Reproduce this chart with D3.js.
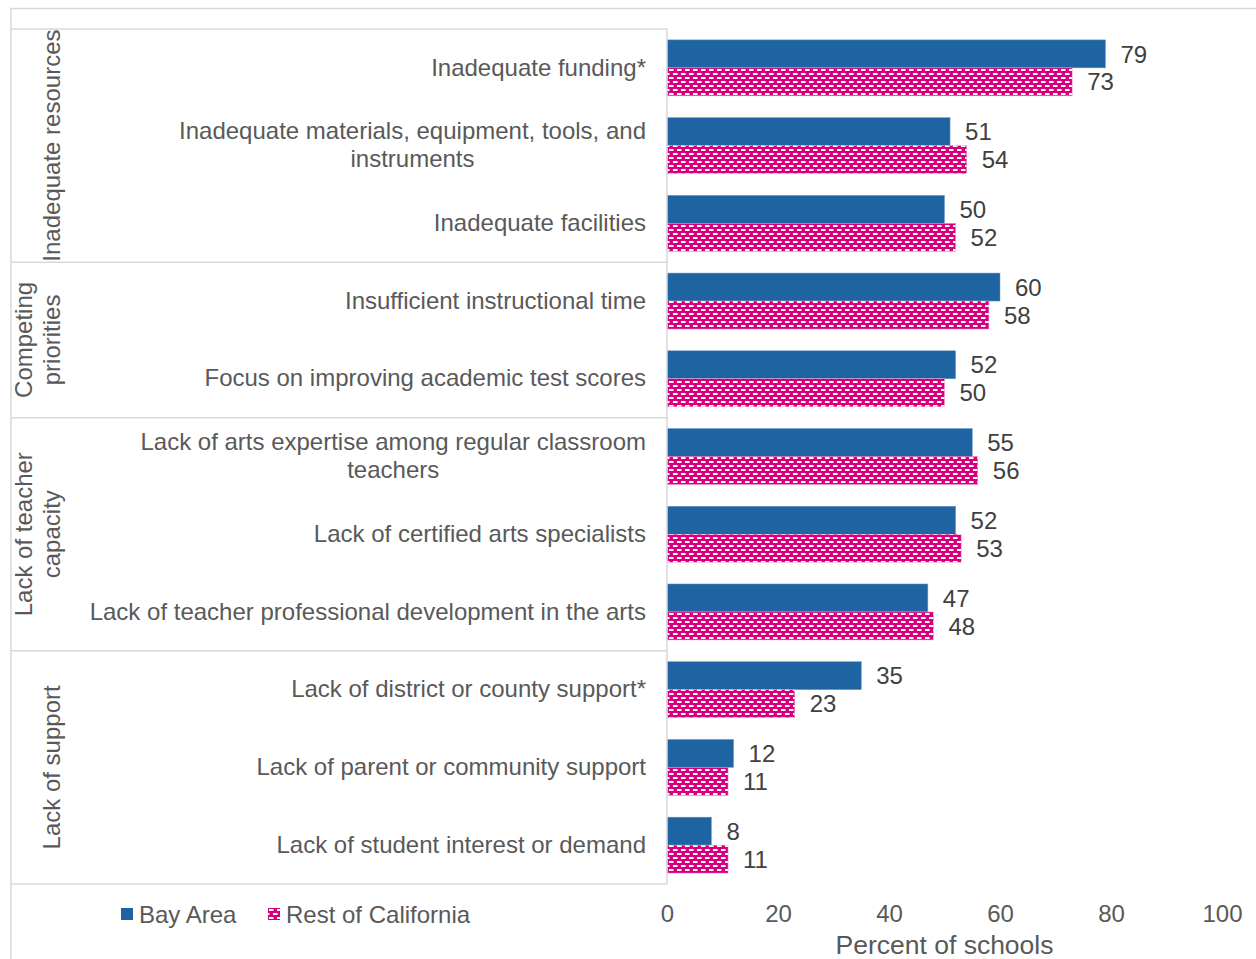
<!DOCTYPE html>
<html>
<head>
<meta charset="utf-8">
<script src="https://cdn.jsdelivr.net/npm/d3@7"></script>
<style>
  html, body { margin: 0; padding: 0; background: #fff; }
  svg { display: block; font-family: "Liberation Sans", Arial, sans-serif; }
</style>
</head>
<body>
<svg id="chart" width="1256" height="959"></svg>
<script>
// Barriers to arts education, percent of schools
const categories = [
  ["Inadequate funding*"],
  ["Inadequate materials, equipment, tools, and", "instruments"],
  ["Inadequate facilities"],
  ["Insufficient instructional time"],
  ["Focus on improving academic test scores"],
  ["Lack of arts expertise among regular classroom", "teachers"],
  ["Lack of certified arts specialists"],
  ["Lack of teacher professional development in the arts"],
  ["Lack of district or county support*"],
  ["Lack of parent or community support"],
  ["Lack of student interest or demand"]
];
const bayArea = [79, 51, 50, 60, 52, 55, 52, 47, 35, 12, 8];
const restOfCalifornia = [73, 54, 52, 58, 50, 56, 53, 48, 23, 11, 11];
const groups = [
  { lines: ["Inadequate resources"], from: 0, to: 2 },
  { lines: ["Competing", "priorities"], from: 3, to: 4 },
  { lines: ["Lack of teacher", "capacity"], from: 5, to: 7 },
  { lines: ["Lack of support"], from: 8, to: 10 }
];
const seriesNames = ["Bay Area", "Rest of California"];
const xTicks = [0, 20, 40, 60, 80, 100];

const blue = "#1f64a2";
const pink = "#d6007e";
const grid = "#d9d9d9";
const labelColor = "#595959";
const valueColor = "#404040";
const fontSize = 24;

const svg = d3.select("#chart");

// magenta fill with staggered white dashes
const defs = svg.append("defs");
const pat = defs.append("pattern")
  .attr("id", "dashes")
  .attr("patternUnits", "userSpaceOnUse")
  .attr("width", 8).attr("height", 8);
pat.append("rect").attr("width", 8).attr("height", 8).attr("fill", pink);
pat.append("rect").attr("x", 1).attr("y", 1).attr("width", 4.5).attr("height", 2).attr("fill", "#fff");
pat.append("rect").attr("x", 5).attr("y", 5).attr("width", 4.5).attr("height", 2).attr("fill", "#fff");
pat.append("rect").attr("x", -3).attr("y", 5).attr("width", 4.5).attr("height", 2).attr("fill", "#fff");

const plotLeft = 667, plotRight = 1222;
const tableLeft = 11, tableTop = 29, tableBottom = 884;

const x = d3.scaleLinear().domain([0, 100]).range([plotLeft, plotRight]);
const y = d3.scaleBand()
  .domain(d3.range(categories.length))
  .range([tableTop, tableBottom])
  .paddingInner(0.28).paddingOuter(0.14);
const ySub = d3.scaleBand().domain([0, 1]).range([0, y.bandwidth()]);

// outer frame
svg.append("line").attr("x1", 10).attr("x2", 1256).attr("y1", 8.5).attr("y2", 8.5)
  .attr("stroke", grid).attr("stroke-width", 1.5);
svg.append("line").attr("x1", tableLeft).attr("x2", tableLeft).attr("y1", 8).attr("y2", 959)
  .attr("stroke", grid).attr("stroke-width", 1.5);

// group separators
const rowTop = i => tableTop + i * (tableBottom - tableTop) / categories.length;
const sepYs = [0, 3, 5, 8, 11].map(rowTop);
svg.selectAll("line.sep").data(sepYs).join("line")
  .attr("class", "sep")
  .attr("x1", tableLeft).attr("x2", plotLeft)
  .attr("y1", d => d).attr("y2", d => d)
  .attr("stroke", grid).attr("stroke-width", 1.5);

// bars
const series = [bayArea, restOfCalifornia];
series.forEach((vals, s) => {
  svg.append("g").selectAll("rect").data(vals).join("rect")
    .attr("x", x(0))
    .attr("y", (d, i) => y(i) + ySub(s))
    .attr("width", d => x(d) - x(0))
    .attr("height", ySub.bandwidth())
    .attr("fill", s === 0 ? blue : "url(#dashes)")
    .attr("stroke", s === 0 ? "#6d9bcb" : "#f29acb")
    .attr("stroke-width", 0.5);

  svg.append("g").selectAll("text").data(vals).join("text")
    .attr("x", d => x(d) + 15)
    .attr("y", (d, i) => y(i) + ySub(s) + ySub.bandwidth() / 2)
    .attr("dy", "0.36em")
    .attr("font-size", fontSize)
    .attr("fill", valueColor)
    .text(d => d);
});

// category axis line
svg.append("line").attr("x1", plotLeft).attr("x2", plotLeft)
  .attr("y1", tableTop).attr("y2", tableBottom)
  .attr("stroke", grid).attr("stroke-width", 1.5);

// category labels: multi-line blocks right-aligned, lines centred within
const labelRight = 646;
const lineH = 28;
categories.forEach((lines, i) => {
  const g = svg.append("g");
  const texts = lines.map(t => g.append("text")
    .attr("font-size", fontSize).attr("fill", labelColor).text(t));
  const maxW = d3.max(texts, t => t.node().getComputedTextLength());
  const cx = labelRight - maxW / 2;
  const cy = y(i) + y.bandwidth() / 2 - 1;
  texts.forEach((t, k) => {
    t.attr("x", cx).attr("text-anchor", "middle")
      .attr("y", cy + (k - (lines.length - 1) / 2) * lineH)
      .attr("dy", "0.36em");
  });
});

// group labels, rotated
groups.forEach(gr => {
  const cy = (rowTop(gr.from) + rowTop(gr.to + 1)) / 2;
  const n = gr.lines.length;
  gr.lines.forEach((t, k) => {
    const bx = 60 - (n - 1 - k) * 28;
    svg.append("text")
      .attr("transform", `translate(${bx},${cy}) rotate(-90)`)
      .attr("text-anchor", "middle")
      .attr("font-size", fontSize)
      .attr("fill", labelColor)
      .text(t);
  });
});

// value axis
const axis = d3.axisBottom(x).tickValues(xTicks).tickSize(0).tickPadding(0);
const ag = svg.append("g").attr("transform", `translate(0,${tableBottom})`).call(axis);
ag.select(".domain").remove();
ag.selectAll("text")
  .attr("font-size", fontSize)
  .attr("font-family", "Liberation Sans, Arial, sans-serif")
  .attr("fill", labelColor)
  .attr("y", 29).attr("dy", "0.36em");

svg.append("text")
  .attr("x", (plotLeft + plotRight) / 2).attr("y", 944)
  .attr("dy", "0.36em")
  .attr("text-anchor", "middle")
  .attr("font-size", 26.5).attr("fill", labelColor)
  .text("Percent of schools");

// legend
const legendData = [
  { name: seriesNames[0], fill: blue, x: 121 },
  { name: seriesNames[1], fill: "url(#dashes)", x: 268 }
];
legendData.forEach(l => {
  svg.append("rect").attr("x", l.x).attr("y", 908).attr("width", 12).attr("height", 12)
    .attr("fill", l.fill);
  svg.append("text").attr("x", l.x + 18).attr("y", 914).attr("dy", "0.36em")
    .attr("font-size", fontSize).attr("fill", labelColor).text(l.name);
});
</script>
</body>
</html>
